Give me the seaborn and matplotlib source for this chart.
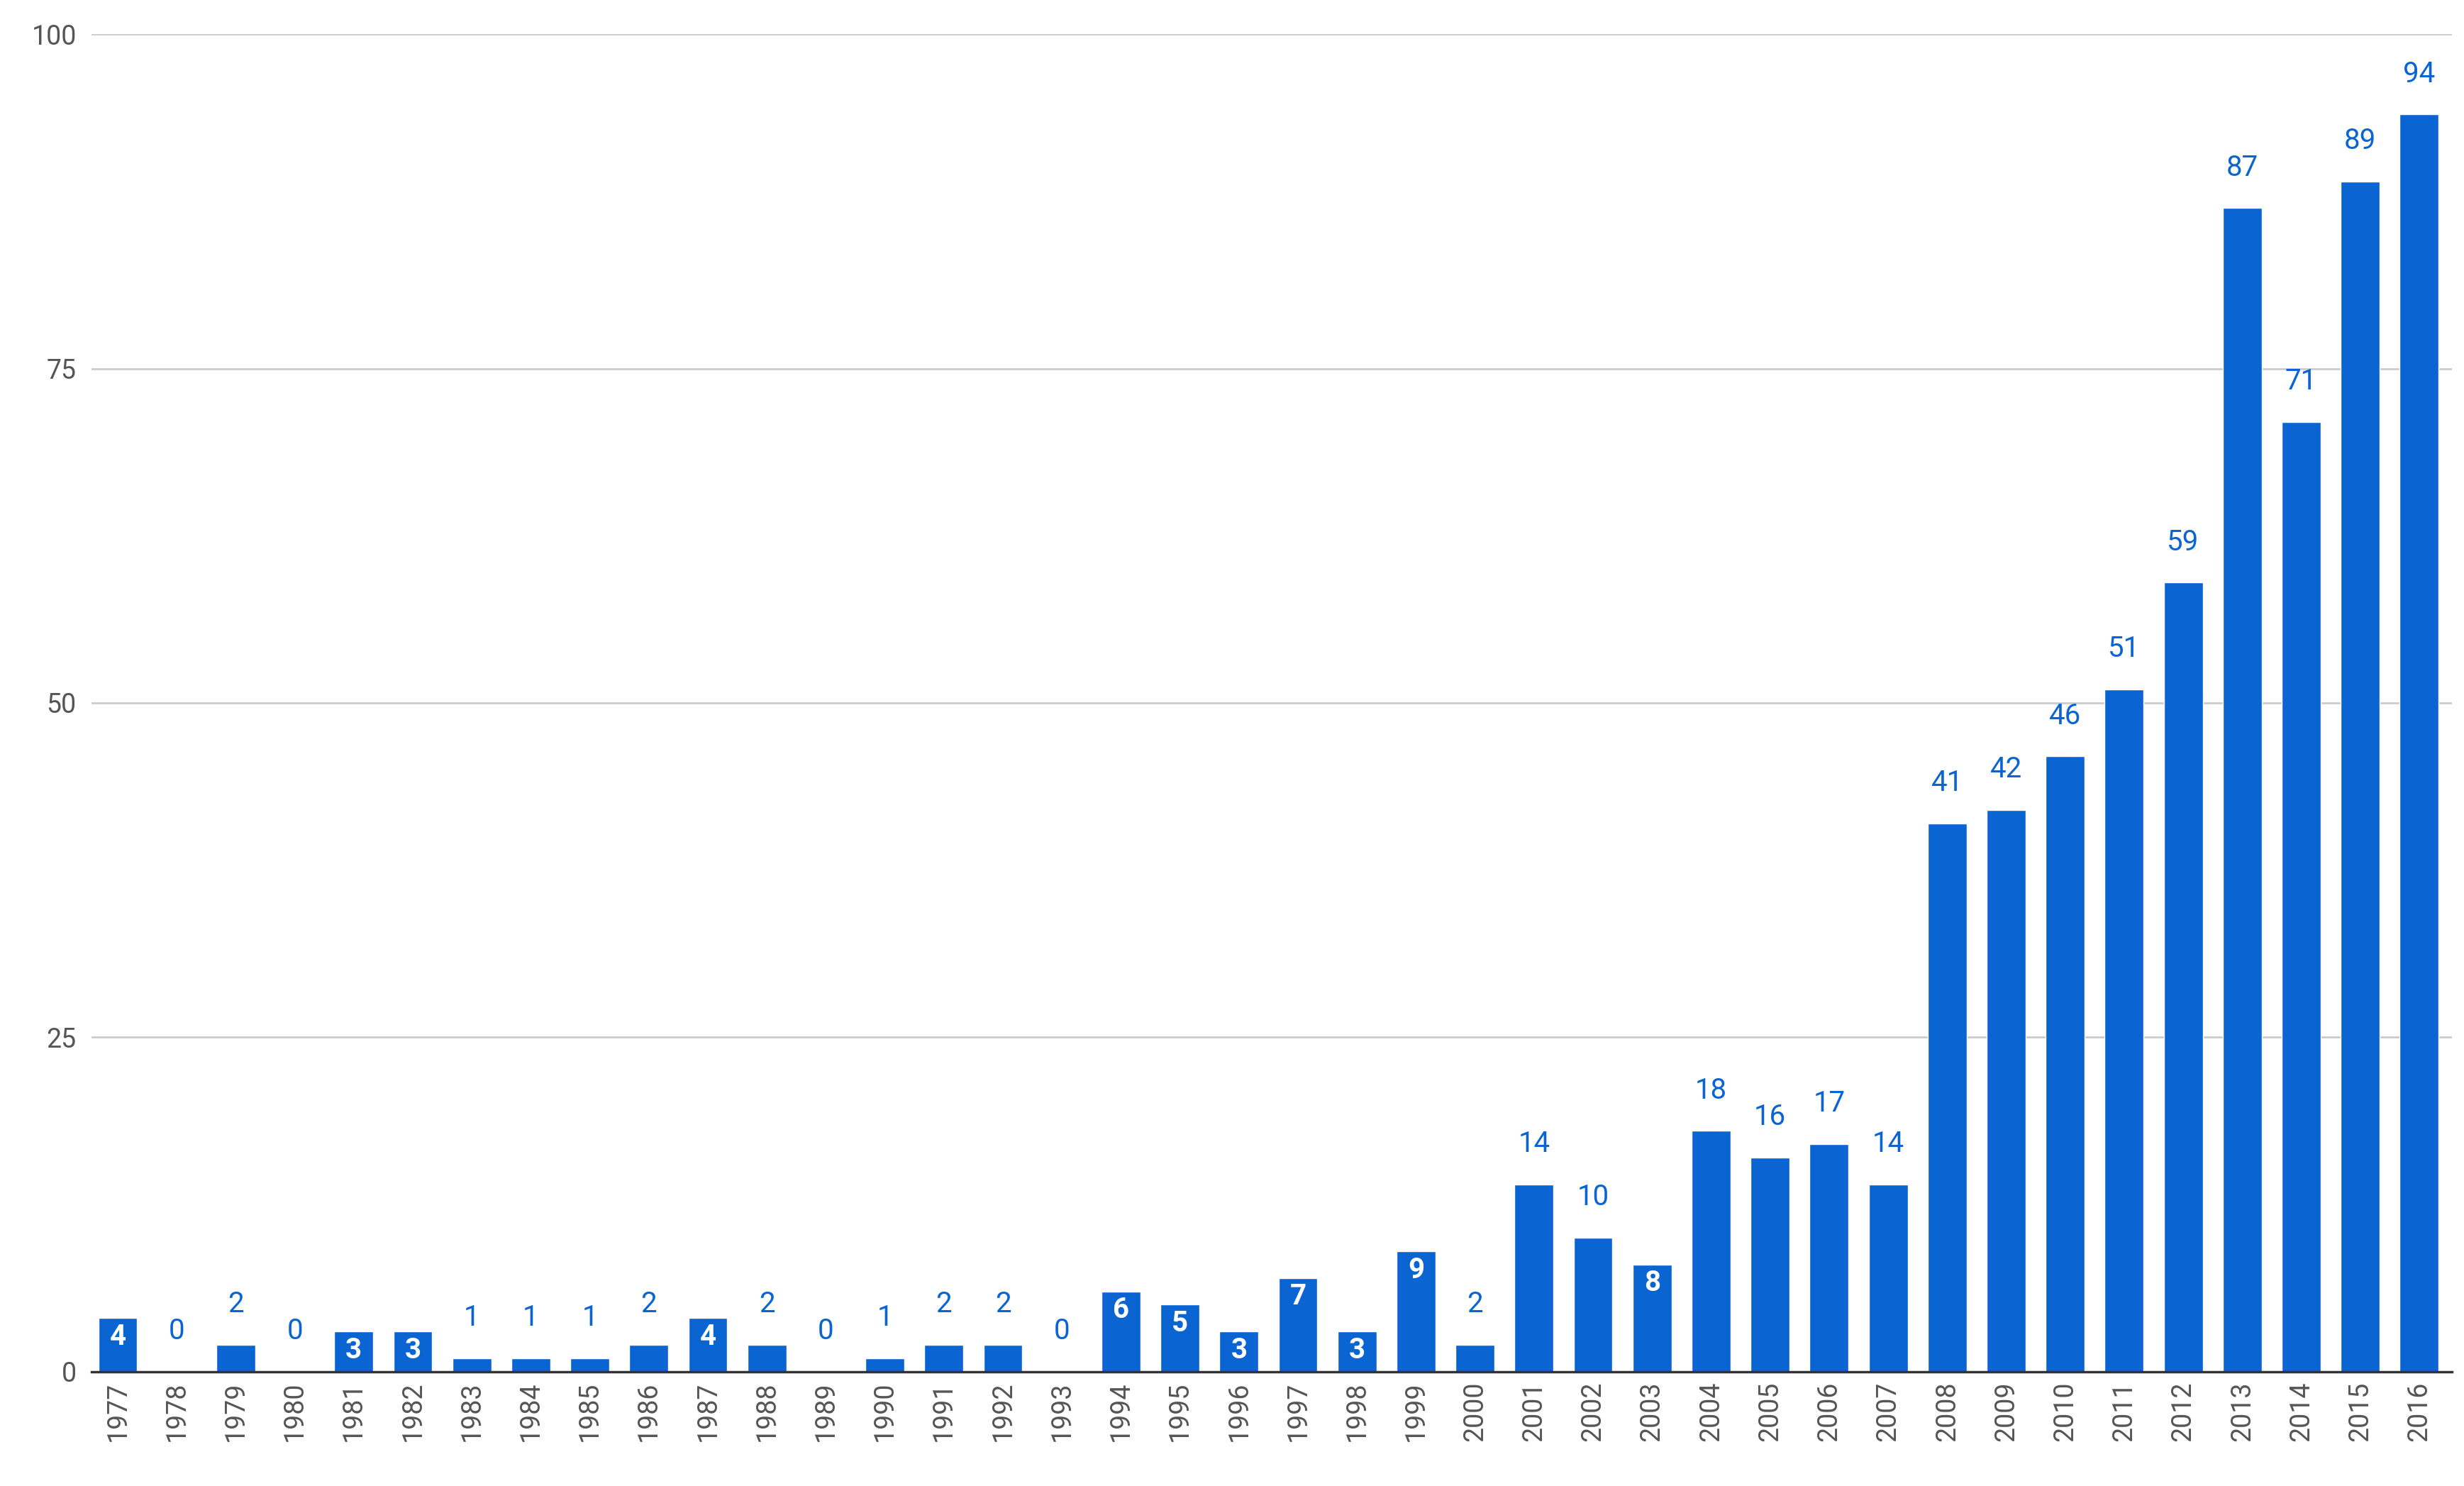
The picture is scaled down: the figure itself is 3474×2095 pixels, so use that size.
import matplotlib
matplotlib.use("Agg")
import matplotlib.pyplot as plt
import seaborn as sns
import pandas as pd

years = list(range(1977, 2017))
values = [4,0,2,0,3,3,1,1,1,2,4,2,0,1,2,2,0,6,5,3,7,3,9,2,14,10,8,18,16,17,14,41,42,46,51,59,87,71,89,94]
inside_years = [1977,1981,1982,1987,1994,1995,1996,1997,1998,1999,2003]

sns.set_theme(style="white")
plt.rcParams['font.family'] = ['Roboto', 'DejaVu Sans']
df = pd.DataFrame({"year": [str(y) for y in years], "value": values})

fig = plt.figure(figsize=(34.74, 20.95), dpi=100)
ax = fig.add_axes([0.037, 0.077, 0.958, 0.9])
color = "#0a64d2"
sns.barplot(data=df, x="year", y="value", color=color, width=0.66, saturation=1, ax=ax)
ax.set_ylim(0, 100)
ax.set_xlim(-0.45, len(years) - 0.45)
ax.set_yticks([0, 25, 50, 75, 100])
ax.yaxis.grid(True, color="#cccccc", linewidth=2)
ax.set_axisbelow(True)
for s in ["top", "right", "left"]:
    ax.spines[s].set_visible(False)
ax.spines["bottom"].set_color("#333333")
ax.spines["bottom"].set_linewidth(2.5)
ax.tick_params(axis="y", length=0, labelsize=27, labelcolor="#555555", pad=15)
ax.tick_params(axis="x", length=0, labelsize=27, labelcolor="#555555", rotation=90, pad=10)
ax.set_xlabel("")
ax.set_ylabel("")
for i, (y, v) in enumerate(zip(years, values)):
    if y in inside_years:
        ax.text(i, v - 0.4, str(v), ha="center", va="top", color="white",
                fontsize=29, fontweight="bold")
    else:
        ax.text(i, v + 2.0, str(v), ha="center", va="bottom", color=color, fontsize=29)
fig.savefig("out.png", dpi=100)
